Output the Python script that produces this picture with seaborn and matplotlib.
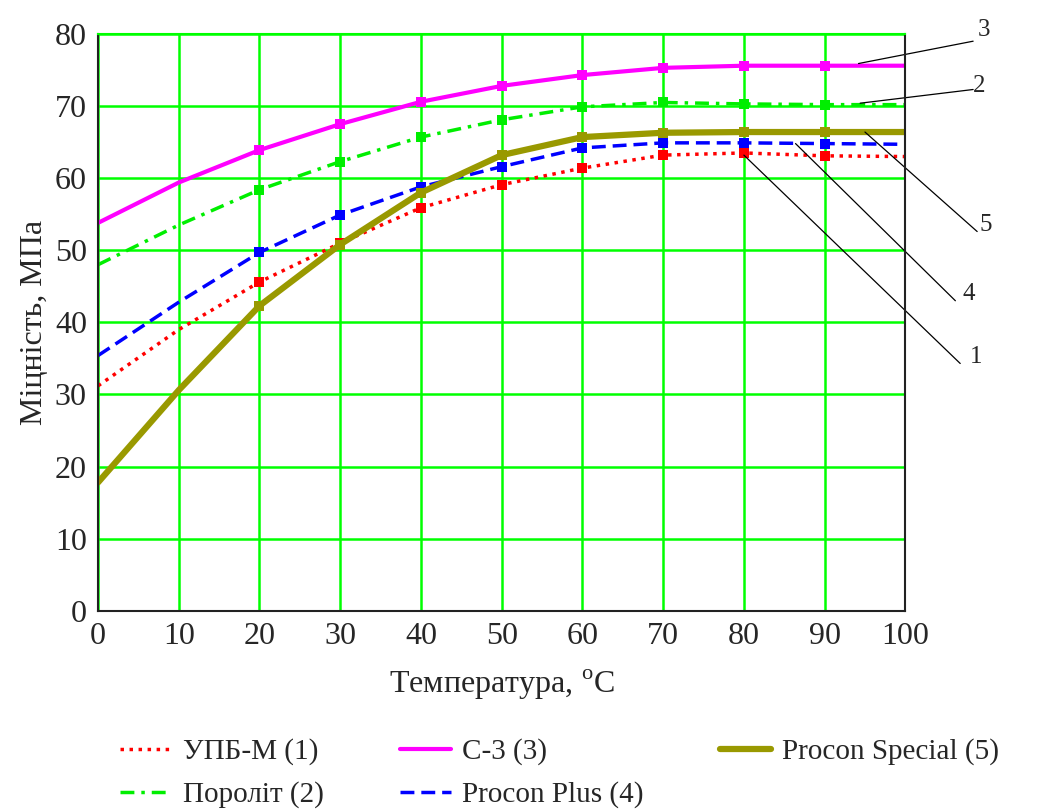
import matplotlib
matplotlib.use('Agg')
import matplotlib.pyplot as plt
import numpy as np
import pandas as pd
import seaborn as sns

temp = [0, 10, 20, 30, 40, 50, 60, 70, 80, 90, 100]
upb_m = [31.2, 39.0, 45.6, 51.0, 55.9, 59.1, 61.4, 63.2, 63.5, 63.1, 63.0]
porolit = [48.0, 53.5, 58.4, 62.3, 65.7, 68.1, 69.9, 70.5, 70.3, 70.2, 70.2]
c3 = [53.8, 59.4, 63.9, 67.5, 70.6, 72.8, 74.3, 75.3, 75.6, 75.6, 75.6]
procon_plus = [35.4, 42.8, 49.7, 54.9, 58.8, 61.6, 64.2, 64.9, 64.9, 64.8, 64.7]
procon_special = [17.8, 30.6, 42.3, 50.8, 58.0, 63.2, 65.7, 66.3, 66.4, 66.4, 66.4]

series_names = ['УПБ-М (1)', 'Пороліт (2)', 'С-3 (3)', 'Procon Plus (4)', 'Procon Special (5)']
series_values = [upb_m, porolit, c3, procon_plus, procon_special]
curve_numbers = ['1', '2', '3', '4', '5']

colors = ['#ff0000', '#00ee00', '#ff00ff', '#0000ff', '#999900']
styles = [(0, (1, 1.6)), (0, (4, 2, 1, 2)), '-', (0, (4, 2)), '-']
widths = [2.5, 2.5, 3, 2.5, 4.5]

sns.set_style('white')
plt.rcParams['font.family'] = ['Liberation Serif', 'DejaVu Serif']
plt.rcParams['mathtext.fontset'] = 'custom'
plt.rcParams['mathtext.rm'] = 'Liberation Serif'

fig = plt.figure(figsize=(10.43, 8.09), dpi=100)
ax = fig.add_axes([0.094, 0.245, 0.774, 0.713])

for name, vals, c, ls, lw in zip(series_names, series_values, colors, styles, widths):
    df = pd.DataFrame({'t': temp, 'v': vals})
    sns.lineplot(data=df, x='t', y='v', ax=ax, color=c, linestyle=ls, linewidth=lw,
                 marker='s', markersize=7, markeredgewidth=0, markevery=slice(2, 10),
                 label=name, legend=False)

ax.set_xlim(0, 100)
ax.set_ylim(0, 80)
ax.set_xticks(np.arange(0, 101, 10))
ax.set_yticks(np.arange(0, 81, 10))
ax.grid(True, color='#00ff00', linewidth=1.8)
ax.set_axisbelow(True)
for s in ax.spines.values():
    s.set_color('#222222')
    s.set_linewidth(1.5)
ax.spines['top'].set_color('#00ff00')
ax.tick_params(axis='both', labelsize=23, length=0, pad=8)
ax.set_xlabel(r'Температура, $^{\rm o}$C', fontsize=23, labelpad=12)
ax.set_ylabel('Міцність, МПа', fontsize=23, labelpad=4)

# leader lines with curve numbers on the right
leaders = {
    '3': ((94.2, 75.9), (108.4, 79.0)),
    '2': ((94.4, 70.4), (108.4, 72.3)),
    '5': ((95.0, 66.4), (108.9, 52.6)),
    '4': ((86.4, 64.8), (106.2, 43.0)),
    '1': ((80.0, 63.2), (106.8, 34.3)),
}
text_pos = {
    '3': (109.7, 80.6), '2': (109.1, 72.8), '5': (110.0, 53.5),
    '4': (107.8, 44.0), '1': (108.8, 35.2),
}
for num in curve_numbers:
    (x0, y0), (x1, y1) = leaders[num]
    ax.plot([x0, x1], [y0, y1], color='black', linewidth=0.9, clip_on=False)
    ax.text(*text_pos[num], num, fontsize=18, ha='center', va='center', clip_on=False)

handles, labels = ax.get_legend_handles_labels()
leg = fig.legend(handles, labels, loc='upper left', bbox_to_anchor=(0.09, 0.12), ncol=3,
                 frameon=False, fontsize=21, handlelength=1.75, columnspacing=2.6,
                 handletextpad=0.4, labelspacing=0.55)
for h in leg.legend_handles:
    h.set_marker('')

fig.savefig('out.png', dpi=100)
